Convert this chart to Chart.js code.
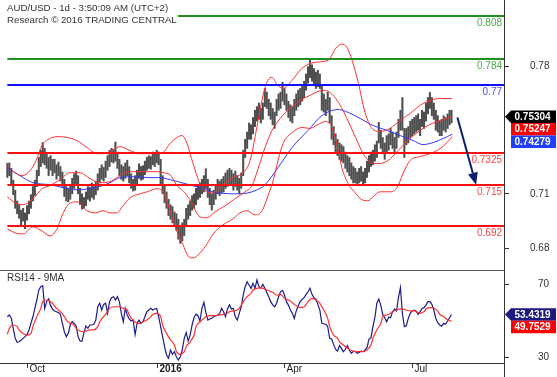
<!DOCTYPE html>
<html><head><meta charset="utf-8">
<script src="https://cdn.jsdelivr.net/npm/chart.js@4/dist/chart.umd.min.js"></script>
<style>
html,body{margin:0;padding:0;background:#fff;}
#wrap{position:relative;width:557px;height:377px;overflow:hidden;background:#fff;}
#c1{position:absolute;left:0;top:0;}
#c2{position:absolute;left:0;top:271px;}
</style></head><body>
<div id="wrap"><canvas id="c1" width="557" height="271"></canvas><canvas id="c2" width="557" height="106"></canvas></div>
<script>
// ---------- DATA (daily bars, index 0 = mid-Sep 2015) ----------
const lowsPips = [
7190,7200,7150,7095,7020,6990,6965,6930,6950,6908,
6955,6990,7020,7060,7090,7140,7200,7250,7270,7260,
7240,7200,7230,7200,7215,7180,7200,7170,7140,7085,
7060,7055,7070,7100,7130,7150,7100,7040,7016,7020,
7035,7070,7060,7080,7070,7095,7120,7160,7180,7170,
7190,7230,7250,7275,7270,7280,7240,7200,7180,7170,
7185,7200,7160,7130,7115,7120,7150,7185,7175,7180,
7205,7230,7240,7235,7260,7250,7270,7260,7150,7100,
7050,7020,6980,6960,6940,6920,6900,6850,6827,6840,
6870,6930,6960,6980,7010,7020,7040,7070,7080,7100,
7110,7130,7080,7040,7010,7040,7070,7100,7090,7105,
7110,7130,7140,7150,7150,7120,7140,7120,7100,7130,
7200,7300,7350,7400,7400,7430,7470,7500,7510,7490,
7510,7580,7570,7530,7510,7480,7460,7530,7560,7570,
7610,7590,7560,7520,7500,7490,7530,7560,7580,7590,
7610,7630,7670,7710,7740,7720,7700,7680,7690,7680,
7560,7550,7530,7560,7490,7400,7370,7330,7310,7290,
7280,7270,7240,7220,7200,7180,7160,7160,7145,7160,
7170,7150,7160,7190,7220,7250,7260,7280,7300,7380,
7350,7320,7290,7330,7340,7370,7350,7320,7350,7410,
7450,7450,7300,7370,7380,7410,7420,7430,7440,7450,
7420,7470,7460,7500,7540,7570,7530,7510,7450,7440,
7420,7420,7450,7440,7460,7480,7490];
const highsPips = [
7268,7270,7240,7175,7120,7060,7040,7010,7020,6995,
7035,7060,7095,7140,7175,7230,7300,7340,7382,7350,
7320,7300,7310,7290,7290,7260,7275,7250,7220,7180,
7140,7130,7150,7185,7210,7225,7200,7130,7100,7080,
7110,7140,7135,7160,7140,7170,7210,7240,7260,7245,
7280,7310,7340,7350,7345,7385,7330,7290,7260,7250,
7270,7285,7250,7210,7180,7200,7230,7265,7250,7255,
7280,7300,7310,7305,7330,7320,7340,7330,7290,7200,
7150,7110,7070,7040,7030,7000,6990,6960,6920,6940,
6960,7020,7040,7060,7090,7100,7130,7150,7160,7180,
7200,7238,7180,7130,7100,7120,7150,7180,7170,7180,
7195,7215,7230,7240,7230,7210,7225,7200,7185,7215,
7340,7400,7440,7490,7480,7520,7560,7580,7600,7570,
7600,7680,7660,7620,7600,7570,7550,7620,7650,7660,
7714,7680,7650,7610,7590,7580,7620,7650,7670,7680,
7700,7720,7760,7800,7835,7810,7790,7770,7780,7760,
7700,7650,7620,7660,7630,7530,7470,7430,7400,7380,
7370,7360,7330,7310,7300,7270,7250,7240,7220,7240,
7250,7220,7240,7280,7310,7330,7340,7370,7390,7493,
7450,7410,7380,7420,7430,7460,7440,7410,7440,7510,
7560,7630,7460,7460,7470,7500,7510,7520,7530,7540,
7510,7560,7550,7600,7630,7658,7630,7600,7560,7530,
7500,7510,7530,7520,7540,7560,7560];

// Bollinger upper / middle / lower and 50-day MA (day index, price in pips)
const upperDays = [0,3.9,7.5,11.5,14.6,17.6,20.7,25.8,30.4,35.4,40.5,45.6,49.7,53.3,57.3,62.4,67.5,72.6,76.2,79.2,82.8,86.3,88.9,91.4,94.5,98.0,101.6,104.7,108.2,114.8,119.9,123.5,127.6,130.1,132.6,134.7,137.2,140.3,144.9,149.9,156.6,163.2,167.2,170.3,172.8,175.4,178.5,182.0,185.6,189.6,194.7,199.8,204.9,210.0,215.1,220.2,226.3];
const upperPips = [7255,7216,7200,7227,7283,7366,7399,7415,7410,7393,7355,7321,7321,7338,7360,7338,7321,7321,7321,7327,7377,7410,7421,7377,7266,7156,7111,7106,7134,7189,7216,7283,7504,7642,7725,7741,7703,7681,7725,7791,7824,7835,7902,7924,7907,7835,7714,7548,7459,7443,7460,7504,7542,7587,7614,7625,7625];
const midDays = [0,3.9,8.0,13.1,17.6,21.7,26.8,31.9,37.0,42.1,47.1,52.2,55.8,59.9,64.9,71.1,76.2,79.2,82.8,86.3,89.4,92.9,98.0,101.6,105.7,110.8,115.9,120.9,124.5,127.6,131.1,134.7,138.8,143.8,148.9,154.0,158.1,161.7,164.7,167.8,170.8,174.4,177.9,181.0,184.6,188.6,193.7,198.8,204.9,210.0,215.1,220.2,226.3];
const midPips = [7084,7051,7040,7073,7128,7145,7178,7216,7216,7183,7161,7167,7189,7216,7222,7222,7222,7216,7205,7145,7117,7067,6973,6968,7001,7034,7073,7111,7145,7239,7355,7449,7515,7570,7614,7642,7664,7670,7653,7614,7559,7476,7393,7321,7277,7266,7283,7338,7404,7449,7482,7504,7525];
const lowerDays = [0,3.9,8.0,13.1,17.6,21.7,25.3,27.8,30.9,35.4,40.5,44.6,48.7,52.2,55.8,58.8,62.4,66.0,71.1,76.2,79.2,81.7,84.3,86.8,89.4,91.9,94.5,98.0,101.6,104.7,109.7,114.8,118.4,121.9,126.0,129.6,132.6,135.2,137.7,140.3,144.9,149.9,154.0,158.1,161.7,164.7,167.8,170.3,173.4,176.9,180.5,183.5,186.1,189.6,194.7,198.3,201.3,204.9,210.0,215.1,220.2,223.7,226.3];
const lowerPips = [6907,6885,6879,6918,6896,6868,6907,6979,7040,7056,7007,6995,7007,6995,6995,7034,7078,7095,7111,7128,7111,7045,6951,6879,6819,6758,6747,6774,6824,6879,6929,6962,6995,7007,6984,7007,7089,7172,7283,7377,7437,7465,7460,7482,7498,7476,7366,7239,7156,7106,7067,7062,7084,7111,7111,7134,7211,7283,7305,7321,7349,7382,7415];
const maDays = [0,6.4,13.1,21.7,28.3,35.4,44.6,52.2,57.3,63.9,72.6,77.7,82.8,90.4,98.0,106.7,118.4,126.0,131.1,137.7,144.9,153.0,160.1,168.3,173.4,179.5,186.1,193.2,199.8,206.5,211.5,216.6,221.7,226.3];
const maPips = [7244,7200,7161,7150,7134,7122,7134,7161,7189,7194,7189,7189,7178,7156,7134,7106,7100,7117,7150,7244,7355,7449,7531,7564,7548,7515,7476,7449,7421,7393,7371,7382,7404,7428];

// RSI(14) daily and its 9-period MA
const rsiValues = [
52.2,53.2,51.4,45.9,40.4,38.2,38.5,39.3,40.4,41.3,
42.5,45.0,48.6,52.2,56.8,61.4,66.9,68.7,69.2,56.8,
60.5,62.0,58.3,56.3,55.4,55.0,54.5,53.6,48.6,44.0,
41.3,43.1,47.7,49.5,48.6,47.2,41.3,38.9,38.9,43.6,
47.2,45.9,47.7,47.7,48.1,50.4,57.7,59.6,55.9,59.0,
59.6,54.1,60.5,62.7,63.2,61.4,63.2,60.5,54.1,49.5,
56.8,53.2,51.0,49.9,50.4,42.5,48.6,50.4,48.6,49.5,
52.2,55.0,55.9,56.8,55.9,56.5,56.8,52.2,46.8,41.3,
35.8,31.3,29.5,34.0,31.6,33.1,30.3,28.5,30.3,34.0,
40.4,43.6,38.9,42.2,47.7,51.8,53.6,52.8,49.9,56.8,
60.1,54.6,50.4,51.0,51.4,52.2,52.8,53.2,53.9,56.8,
55.0,52.2,56.5,58.7,56.5,56.8,52.2,50.4,54.1,57.7,
64.1,68.7,71.4,69.6,67.8,70.5,67.8,72.4,68.7,67.8,
70.0,67.8,65.5,63.2,60.5,58.7,57.7,59.6,63.2,65.9,
66.7,64.1,60.5,58.6,55.9,54.1,51.3,55.4,58.3,60.5,
61.8,62.7,64.5,65.9,67.8,64.5,62.7,61.9,59.0,55.9,
48.6,48.4,48.1,46.8,40.4,40.0,37.1,34.4,33.4,36.4,
34.9,33.1,34.4,36.4,34.0,32.2,33.1,33.3,32.2,32.7,
33.4,33.1,34.0,35.3,40.0,40.7,46.8,51.7,59.6,61.9,
58.6,53.5,51.7,49.5,52.0,51.7,55.0,56.5,55.4,62.7,
68.3,54.1,46.8,47.3,51.3,54.1,55.4,55.9,55.4,53.5,
55.0,56.8,57.2,58.6,60.5,60.5,59.0,55.9,51.3,49.0,
47.7,47.1,48.6,48.1,49.9,51.7,53.43];
const rsiMaDays = [0,1,3,5,6,8,10,12,13,15,17,18,20,22,23,25,27,29,30,32,34,35,37,39,40,42,44,46,47,49,51,52,54,56,57,59,61,62,64,66,68,69,71,73,74,76,78,79,81,83,85,86,88,90,91,93,95,96,98,100,101,103,105,107,108,110,112,113,115,117,118,120,122,124,125,127,129,130,132,134,135,137,139,141,144,146,149,151,153,155,157,159,161,163,164,166,168,169,171,173,174,176,178,181,183,185,186,188,190,191,193,195,196,198,200,202,203,205,207,208,210,212,213,215,217,219,220,222,224,226];
const rsiMaValues = [42.6,45.9,47.7,46.8,44.9,43.1,42.2,43.1,46.8,52.3,56.8,60.5,61.4,60.5,59.6,56.8,55.0,52.3,50.4,48.6,47.7,45.9,44.4,44.0,44.4,45.0,45.0,46.8,49.5,52.3,55.0,56.8,57.7,57.7,57.7,56.8,55.9,53.2,50.4,48.6,48.6,49.5,50.4,52.3,53.5,54.1,52.3,47.7,43.1,39.5,36.7,33.1,31.6,33.1,35.8,38.5,42.2,46.8,49.5,51.3,52.3,52.8,52.8,52.8,53.2,53.5,54.1,55.0,55.4,55.9,56.8,60.5,63.2,65.1,66.9,67.8,68.2,67.8,66.9,66.0,65.6,64.1,64.5,62.3,60.8,59.0,57.2,57.7,60.5,62.3,61.4,59.6,55.9,51.3,46.8,42.2,40.4,38.5,36.7,34.9,34.3,33.4,33.1,33.1,34.0,36.7,40.4,45.0,48.6,52.3,53.2,54.1,55.0,55.9,56.5,56.3,55.9,55.4,55.4,55.0,54.1,55.0,56.5,57.2,56.8,55.4,53.5,52.3,50.4,49.75];

// Key levels
const levelValues = [0.808, 0.784, 0.77, 0.7325, 0.715, 0.692];
const levelLabels = ['0.808', '0.784', '0.77', '0.7325', '0.715', '0.692'];
// Last values (right-axis boxes)
const lastClose = 0.75304, lastBBMid = 0.75247, lastMA50 = 0.74279;
const lastRSI = 53.4319, lastRSIMA = 49.7529;
// Forecast arrow (day index, price)
const arrowDays = [229, 238.5];
const arrowPrices = [0.7520, 0.7150];
// Axis ticks
const priceTicks = [0.78, 0.71, 0.68];
const rsiTicks = [70, 30];
const monthTickDays = [10, 76, 141, 206];
const monthTickLabels = ['Oct', '2016', 'Apr', 'Jul'];
const titleLines = ['AUD/USD - 1d - 3:50:09 AM (UTC+2)', 'Research \u00A9 2016 TRADING CENTRAL'];
const rsiTitle = 'RSI14 - 9MA';

// ---------- STYLE ----------
const FONT = '"Liberation Sans", Arial, sans-serif';
Chart.defaults.font.family = FONT;
Chart.defaults.font.size = 10;
const levelLineColors = ['#1f8f1f', '#1f8f1f', '#1010ff', '#ff1010', '#ff1010', '#ff1010'];
const levelTextColors = ['#4aa84a', '#4aa84a', '#4c4cff', '#ff4444', '#ff4444', '#ff4444'];
const X_MIN = -3.74, X_MAX = 252.7;

function pts(days, vals, div) { return days.map((d, k) => ({x: d, y: vals[k] / div})); }
function noPad(s) { s.paddingTop = 0; s.paddingBottom = 0; s.paddingLeft = 0; s.paddingRight = 0; }

function drawBox(ctx, cy, color, text, arrow) {
  const L = 511, R = 556, h = 12.5;
  ctx.fillStyle = color;
  ctx.beginPath();
  if (arrow) {
    ctx.moveTo(505, cy); ctx.lineTo(L, cy - h / 2);
  } else {
    ctx.moveTo(L, cy - h / 2);
  }
  ctx.lineTo(R, cy - h / 2); ctx.lineTo(R, cy + h / 2); ctx.lineTo(L, cy + h / 2);
  ctx.closePath(); ctx.fill();
  ctx.fillStyle = '#fff';
  ctx.font = 'bold 10px ' + FONT;
  ctx.textAlign = 'left'; ctx.textBaseline = 'middle';
  ctx.fillText(text, 514.5, cy + 0.5);
}

const mainDecor = {
  id: 'mainDecor',
  afterDatasetsDraw(chart) {
    const {ctx, chartArea: a, scales: {x, y}} = chart;
    ctx.save();
    const xs = x.getPixelForValue(0);
    levelValues.forEach((v, k) => {
      const py = Math.round(y.getPixelForValue(v));
      ctx.strokeStyle = levelLineColors[k]; ctx.lineWidth = 2;
      ctx.beginPath(); ctx.moveTo(xs, py); ctx.lineTo(a.right, py); ctx.stroke();
      ctx.fillStyle = levelTextColors[k];
      ctx.font = '10px ' + FONT;
      ctx.textAlign = 'right'; ctx.textBaseline = 'top';
      ctx.fillText(levelLabels[k], a.right - 2, py + 2);
    });
    // forecast arrow
    const x1 = x.getPixelForValue(arrowDays[0]), y1 = y.getPixelForValue(arrowPrices[0]);
    const x2 = x.getPixelForValue(arrowDays[1]), y2 = y.getPixelForValue(arrowPrices[1]);
    const ang = Math.atan2(y2 - y1, x2 - x1);
    const hl = 12, hw = 5;
    const bx = x2 - hl * Math.cos(ang), by = y2 - hl * Math.sin(ang);
    ctx.strokeStyle = '#0c1f6e'; ctx.fillStyle = '#0c1f6e'; ctx.lineWidth = 2;
    ctx.beginPath(); ctx.moveTo(x1, y1); ctx.lineTo(bx, by); ctx.stroke();
    ctx.beginPath(); ctx.moveTo(x2, y2);
    ctx.lineTo(bx + hw * Math.sin(ang), by - hw * Math.cos(ang));
    ctx.lineTo(bx - hw * Math.sin(ang), by + hw * Math.cos(ang));
    ctx.closePath(); ctx.fill();
    // panel bottom separator
    ctx.strokeStyle = '#555'; ctx.lineWidth = 1;
    ctx.beginPath(); ctx.moveTo(0, a.bottom - 0.5); ctx.lineTo(a.right, a.bottom - 0.5); ctx.stroke();
    ctx.restore();
  },
  afterDraw(chart) {
    const {ctx, scales: {y}} = chart;
    ctx.save();
    // title block
    ctx.fillStyle = '#fff'; ctx.fillRect(0, 0, 178, 29);
    ctx.fillStyle = '#333'; ctx.font = '9.7px ' + FONT;
    ctx.textAlign = 'left'; ctx.textBaseline = 'top';
    ctx.fillText(titleLines[0], 7, 3.5);
    ctx.fillText(titleLines[1], 7, 15.5);
    // last value boxes
    const boxes = [[lastClose, '#000', true], [lastBBMid, '#ff0000', false], [lastMA50, '#2040ff', false]];
    let prev = -1e9;
    boxes.forEach(([v, c, arr]) => {
      let cy = Math.max(y.getPixelForValue(v) + 1, prev + 12.5);
      prev = cy;
      drawBox(ctx, cy, c, v.toFixed(5), arr);
    });
    ctx.restore();
  }
};

new Chart(document.getElementById('c1'), {
  type: 'bar',
  data: {
    datasets: [
      {type: 'line', data: pts(upperDays, upperPips, 1e4), borderColor: '#ff3030', borderWidth: 1, pointRadius: 0, cubicInterpolationMode: 'monotone', order: 1},
      {type: 'line', data: pts(midDays, midPips, 1e4), borderColor: '#ff3030', borderWidth: 1, pointRadius: 0, cubicInterpolationMode: 'monotone', order: 1},
      {type: 'line', data: pts(lowerDays, lowerPips, 1e4), borderColor: '#ff3030', borderWidth: 1, pointRadius: 0, cubicInterpolationMode: 'monotone', order: 1},
      {type: 'line', data: pts(maDays, maPips, 1e4), borderColor: '#3636ff', borderWidth: 1, pointRadius: 0, cubicInterpolationMode: 'monotone', order: 1},
      {type: 'bar', data: lowsPips.map((l, i) => ({x: i, y: [l / 1e4, highsPips[i] / 1e4]})), backgroundColor: '#4e4e4e', borderWidth: 0, barThickness: 1.4, order: 10}
    ]
  },
  options: {
    responsive: false, animation: false, devicePixelRatio: 1,
    layout: {padding: 0, autoPadding: false},
    plugins: {legend: {display: false}, tooltip: {enabled: false}},
    scales: {
      x: {type: 'linear', min: X_MIN, max: X_MAX, display: false, offset: false, grid: {offset: false}},
      y: {
        type: 'linear', position: 'right', min: 0.6675, max: 0.8167,
        afterFit(s) { s.width = 53; noPad(s); },
        afterBuildTicks(s) { s.ticks = priceTicks.map(v => ({value: v})); },
        ticks: {callback: v => v.toFixed(2), color: '#333', padding: 21, font: {size: 10}},
        grid: {drawOnChartArea: false, drawTicks: true, tickLength: 5, color: '#333'},
        border: {display: true, color: '#333', width: 1}
      }
    }
  },
  plugins: [mainDecor]
});

const rsiDecor = {
  id: 'rsiDecor',
  afterDraw(chart) {
    const {ctx, chartArea: a, scales: {x, y}} = chart;
    ctx.save();
    ctx.fillStyle = '#333'; ctx.font = '10px ' + FONT;
    ctx.textAlign = 'left'; ctx.textBaseline = 'top';
    ctx.fillText(rsiTitle, 7, 2.5);
    // x tick marks and month labels
    ctx.strokeStyle = '#333'; ctx.lineWidth = 1;
    monthTickDays.forEach((d, k) => {
      const px = Math.round(x.getPixelForValue(d)) + 0.5;
      ctx.beginPath(); ctx.moveTo(px, a.bottom); ctx.lineTo(px, a.bottom + 5); ctx.stroke();
      ctx.fillStyle = '#222';
      ctx.font = (monthTickLabels[k] === '2016' ? 'bold ' : '') + '10px ' + FONT;
      ctx.textAlign = 'left'; ctx.textBaseline = 'top';
      ctx.fillText(monthTickLabels[k], px + 2, a.bottom + 1.5);
    });
    // right border extension
    ctx.beginPath(); ctx.moveTo(a.right + 0.5, a.bottom); ctx.lineTo(a.right + 0.5, chart.height); ctx.stroke();
    // boxes
    const boxes = [[lastRSI, '#1a1a80', true], [lastRSIMA, '#ff0000', false]];
    let prev = -1e9;
    boxes.forEach(([v, c, arr]) => {
      let cy = Math.max(y.getPixelForValue(v), prev + 12.5);
      prev = cy;
      drawBox(ctx, cy, c, v.toFixed(4), arr);
    });
    ctx.restore();
  }
};

new Chart(document.getElementById('c2'), {
  type: 'line',
  data: {
    datasets: [
      {data: rsiMaValues.map((v, k) => ({x: rsiMaDays[k], y: v})), borderColor: '#ff3030', borderWidth: 1.2, pointRadius: 0, cubicInterpolationMode: 'monotone'},
      {data: rsiValues.map((v, i) => ({x: i, y: v})), borderColor: '#1c1c8c', borderWidth: 1.2, pointRadius: 0, tension: 0}
    ]
  },
  options: {
    responsive: false, animation: false, devicePixelRatio: 1,
    layout: {padding: 0, autoPadding: false},
    plugins: {legend: {display: false}, tooltip: {enabled: false}},
    scales: {
      x: {
        type: 'linear', min: X_MIN, max: X_MAX, offset: false,
        afterFit(s) { s.height = 14; noPad(s); },
        afterBuildTicks(s) { s.ticks = monthTickDays.map(v => ({value: v})); },
        ticks: {display: false},
        grid: {display: false},
        border: {display: true, color: '#333', width: 1}
      },
      y: {
        type: 'linear', position: 'right', min: 26.88, max: 77.29,
        afterFit(s) { s.width = 53; noPad(s); },
        afterBuildTicks(s) { s.ticks = rsiTicks.map(v => ({value: v})); },
        ticks: {color: '#333', padding: 29, font: {size: 10}},
        grid: {drawOnChartArea: false, drawTicks: true, tickLength: 5, color: '#333'},
        border: {display: true, color: '#333', width: 1}
      }
    }
  },
  plugins: [rsiDecor]
});
</script>
</body></html>
